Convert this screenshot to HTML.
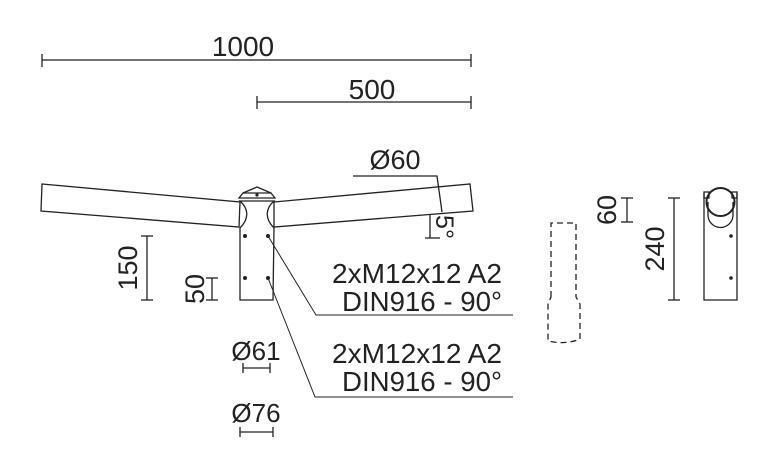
<!DOCTYPE html>
<html><head><meta charset="utf-8"><style>
html,body{margin:0;padding:0;background:#fff;}
svg{display:block;}
text{font-family:"Liberation Sans",sans-serif;fill:#222;}
</style></head><body>
<svg width="766" height="461" viewBox="0 0 766 461" xmlns="http://www.w3.org/2000/svg">
<g stroke="#222" stroke-width="1.3" fill="none">
<line x1="42" y1="60" x2="471" y2="60"/>
<line x1="42" y1="54" x2="42" y2="67"/><line x1="471" y1="54" x2="471" y2="67"/>
<line x1="257" y1="102" x2="471" y2="102"/>
<line x1="257" y1="96" x2="257" y2="109"/><line x1="471" y1="96" x2="471" y2="109"/>
<polygon points="42,184 240,202 239,227 41,211"/>
<polygon points="274,202 470,184 473,211 274,227"/>
<path d="M240,201 L274,201 C266,208 264,218 274,228 L273,300 L240,300 L240,228 C250,218 248,208 240,201 Z" fill="#fff"/>
<polygon points="239,198 275,198 271,193 243,193"/>
<polyline points="243,193 257,187 271,193"/>
<line x1="147" y1="236" x2="147" y2="300"/>
<line x1="141" y1="236" x2="153" y2="236"/><line x1="141" y1="300" x2="153" y2="300"/>
<line x1="212" y1="278" x2="212" y2="300"/>
<line x1="206" y1="278" x2="218" y2="278"/><line x1="206" y1="300" x2="218" y2="300"/>
<polyline points="353,176 437,176 442,212"/>
<line x1="430" y1="215" x2="430" y2="238"/>
<line x1="425" y1="238" x2="440" y2="238"/>
<polyline points="268,236 316,315 513,315" stroke-width="1"/>
<polyline points="268,278 315,397 513,397" stroke-width="1"/>
<line x1="243" y1="368" x2="270" y2="368"/>
<line x1="243" y1="363" x2="243" y2="373"/><line x1="270" y1="363" x2="270" y2="373"/>
<line x1="240" y1="432" x2="273" y2="432"/>
<line x1="240" y1="427" x2="240" y2="437"/><line x1="273" y1="427" x2="273" y2="437"/>
<path d="M551,297 L551,223 L576,223 L576,297 L580,304 L580,339 Q566,345 548,341 L548,304 Z" stroke-dasharray="6,4"/>
<line x1="627" y1="198" x2="627" y2="222"/>
<line x1="621" y1="198" x2="633" y2="198"/><line x1="621" y1="222" x2="633" y2="222"/>
<line x1="674" y1="198" x2="674" y2="300"/>
<line x1="668" y1="198" x2="680" y2="198"/><line x1="668" y1="300" x2="680" y2="300"/>
<polyline points="704,193 704,300 737,300 737,193"/>
<rect x="704" y="192" width="5" height="6"/>
<rect x="732" y="192" width="5" height="6"/>
<path d="M708,202 L708,215 A12.5,12.5 0 0 0 733,215 L733,202"/>
<circle cx="720.5" cy="202" r="14" stroke-width="2"/>
</g>
<g fill="#222">
<circle cx="245" cy="236" r="2"/><circle cx="268" cy="236" r="2"/>
<circle cx="245" cy="278" r="2"/><circle cx="268" cy="278" r="2"/>
<circle cx="257" cy="195" r="1.6"/>
<circle cx="731" cy="236" r="1.8"/><circle cx="731" cy="278" r="1.8"/>
</g>
<text x="243" y="56" font-size="28" text-anchor="middle">1000</text>
<text x="372" y="99" font-size="28" text-anchor="middle">500</text>
<text x="395" y="169" font-size="27" text-anchor="middle">Ø60</text>
<text transform="translate(436,227) rotate(90)" font-size="25" text-anchor="middle">5°</text>
<text transform="translate(137,268) rotate(-90)" font-size="27" text-anchor="middle">150</text>
<text transform="translate(204,289) rotate(-90)" font-size="27" text-anchor="middle">50</text>
<text transform="translate(616,210) rotate(-90)" font-size="27" text-anchor="middle">60</text>
<text transform="translate(664,249) rotate(-90)" font-size="27" text-anchor="middle">240</text>
<text x="502" y="283" font-size="27.5" text-anchor="end" textLength="170" lengthAdjust="spacingAndGlyphs">2xM12x12 A2</text>
<text x="502" y="311" font-size="27.5" text-anchor="end" textLength="160" lengthAdjust="spacingAndGlyphs">DIN916 - 90°</text>
<text x="502" y="363" font-size="27.5" text-anchor="end" textLength="170" lengthAdjust="spacingAndGlyphs">2xM12x12 A2</text>
<text x="502" y="391" font-size="27.5" text-anchor="end" textLength="160" lengthAdjust="spacingAndGlyphs">DIN916 - 90°</text>
<text x="256" y="360" font-size="26" text-anchor="middle">Ø61</text>
<text x="256" y="422" font-size="26" text-anchor="middle">Ø76</text>
</svg>
</body></html>
